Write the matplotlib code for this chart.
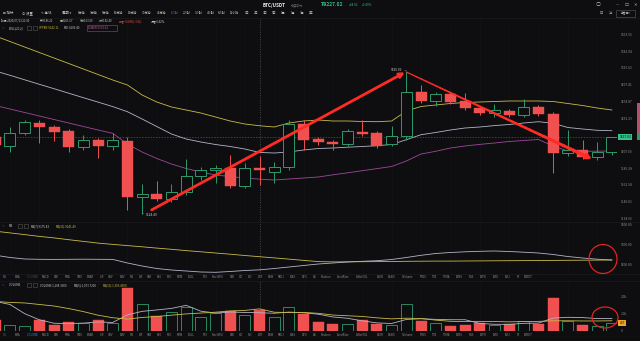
import numpy as np
import matplotlib
matplotlib.use("Agg")
import matplotlib.pyplot as plt
from matplotlib.patches import Rectangle, Ellipse
from matplotlib.collections import LineCollection

plt.rcParams['font.family'] = ['Noto Sans CJK SC', 'DejaVu Sans']

# ---------------- data: BTC/USDT 1h candles ----------------
opens = [9227.05, 9215.01, 9232.41, 9245.79, 9240.44, 9235.08, 9213.67, 9223.04, 9215.01, 9221.70,
         9146.76, 9150.77, 9144.08, 9153.45, 9174.86, 9182.89, 9185.57, 9161.48, 9186.22, 9180.21,
         9186.90, 9244.45, 9224.38, 9220.36, 9217.69, 9233.74, 9232.41, 9217.69, 9228.39, 9287.28,
         9275.23, 9284.60, 9275.23, 9265.86, 9259.17, 9261.85, 9256.50, 9267.20, 9257.83, 9205.64,
         9209.66, 9200.29, 9206.98]
highs = [9232.41, 9240.44, 9249.80, 9249.80, 9243.11, 9237.76, 9229.73, 9225.72, 9232.41, 9227.05,
         9164.15, 9168.17, 9164.15, 9197.61, 9186.90, 9189.58, 9202.96, 9192.26, 9201.57, 9193.60,
         9249.80, 9249.80, 9227.05, 9223.04, 9237.76, 9249.80, 9235.08, 9241.77, 9315.59, 9296.64,
         9287.28, 9287.28, 9285.94, 9268.54, 9271.22, 9264.53, 9277.91, 9269.88, 9260.51, 9236.42,
         9223.04, 9220.36, 9227.05]
lows = [9209.66, 9206.98, 9229.73, 9219.02, 9221.70, 9206.98, 9209.66, 9198.95, 9209.66, 9129.36,
        9124.49, 9141.40, 9140.06, 9149.43, 9169.51, 9165.49, 9158.80, 9158.80, 9163.00, 9165.49,
        9182.89, 9209.66, 9216.35, 9209.66, 9215.01, 9228.39, 9212.33, 9215.01, 9223.04, 9272.56,
        9268.54, 9271.22, 9263.19, 9256.50, 9253.82, 9253.82, 9253.82, 9255.16, 9178.87, 9201.63,
        9197.61, 9196.27, 9202.96]
closes = [9216.35, 9232.41, 9247.13, 9240.44, 9233.74, 9213.67, 9223.04, 9215.01, 9223.04, 9146.76,
          9150.77, 9144.08, 9153.45, 9174.86, 9182.89, 9185.57, 9161.48, 9185.57, 9182.40, 9186.90,
          9244.45, 9223.04, 9220.36, 9217.69, 9235.08, 9231.07, 9215.01, 9228.39, 9287.28, 9275.23,
          9284.60, 9273.89, 9265.86, 9259.17, 9263.19, 9256.50, 9267.20, 9257.83, 9205.64, 9209.66,
          9200.29, 9206.98, 9227.02]

boll_upper = [9362.22, 9354.86, 9347.50, 9340.14, 9332.78, 9325.42, 9318.06, 9310.70, 9303.34, 9296.65,
              9283.26, 9273.89, 9267.20, 9263.19, 9259.17, 9253.82, 9248.47, 9244.45, 9242.11, 9240.44,
              9245.79, 9248.47, 9249.80, 9248.47, 9248.47, 9247.80, 9247.53, 9248.47, 9261.85, 9267.87,
              9269.88, 9271.89, 9273.22, 9273.89, 9274.56, 9275.23, 9275.23, 9275.23, 9274.56, 9271.89,
              9269.21, 9265.86, 9263.19]
boll_mid = [9315.38, 9309.63, 9303.60, 9297.58, 9291.69, 9285.67, 9279.65, 9273.76, 9267.74, 9260.91,
            9251.14, 9241.10, 9231.07, 9224.38, 9220.36, 9217.02, 9214.34, 9210.99, 9206.40, 9205.64,
            9206.98, 9209.66, 9211.66, 9212.33, 9213.40, 9214.34, 9215.41, 9217.02, 9223.44, 9230.13,
            9233.07, 9236.42, 9239.10, 9240.44, 9242.31, 9243.78, 9245.79, 9247.53, 9245.39, 9239.77,
            9237.76, 9236.02, 9235.49]
boll_lower = [9269.21, 9264.53, 9259.84, 9255.16, 9250.47, 9245.79, 9241.10, 9236.42, 9232.00, 9217.69,
              9206.98, 9198.28, 9190.92, 9184.90, 9180.21, 9176.20, 9174.19, 9172.18, 9170.62, 9169.51,
              9170.84, 9172.18, 9173.52, 9176.46, 9179.14, 9181.95, 9184.76, 9187.57, 9194.93, 9204.30,
              9207.91, 9212.33, 9215.01, 9217.15, 9219.02, 9221.03, 9222.37, 9223.71, 9215.01, 9208.32,
              9207.90, 9208.10, 9208.32]

ma7 = [9249.0, 9237.5, 9230.0, 9228.5, 9228.0, 9228.5, 9229.0, 9228.5, 9228.0, 9210.0,
       9195.0, 9182.5, 9175.0, 9170.0, 9165.0, 9163.5, 9167.5, 9172.5, 9175.83, 9182.5,
       9190.0, 9197.5, 9205.0, 9210.0, 9215.0, 9218.5, 9221.5, 9227.5, 9237.5, 9248.5,
       9257.5, 9262.5, 9266.0, 9268.5, 9270.0, 9267.5, 9264.0, 9260.0, 9252.5, 9242.5,
       9235.0, 9229.0, 9225.0]
ma30 = [9369.0, 9360.5, 9352.0, 9343.0, 9335.5, 9326.5, 9318.0, 9309.5, 9303.0, 9297.0,
        9291.0, 9284.5, 9278.5, 9272.0, 9266.0, 9260.0, 9254.0, 9247.5, 9241.49, 9235.5,
        9229.5, 9223.0, 9217.0, 9215.5, 9216.0, 9216.5, 9217.0, 9217.5, 9218.5, 9219.0,
        9219.5, 9219.5, 9220.0, 9220.5, 9221.0, 9221.5, 9222.0, 9222.5, 9223.0, 9223.5,
        9224.0, 9224.5, 9225.0]

volumes = [641, 359, 299, 641, 341, 557, 479, 641, 497, 2557,
           1599, 898, 1096, 1395, 838, 1060, 1198, 958, 1208.30, 796,
           1395, 1000, 539, 401, 401, 641, 401, 359, 1599, 599,
           461, 299, 359, 497, 359, 437, 599, 437, 1958, 599,
           359, 299, 467]
vol_ma5 = [1740, 1560, 1020, 660, 456, 439, 463, 532, 503, 946,
           1155, 1238, 1329, 1509, 1165, 1057, 1117, 1090, 1073.72, 1044,
           1111, 1071, 988, 826, 747, 596, 477, 441, 680, 720,
           684, 663, 663, 443, 395, 390, 450, 466, 758, 806,
           790, 730, 736]
vol_ma10 = [1740, 1680, 1650, 1560, 1470, 1320, 1140, 930, 780, 701,
            797, 851, 931, 1006, 1056, 1106, 1178, 1210, 1303.45, 1105,
            1084, 1094, 1039, 939, 896, 854, 774, 714, 753, 734,
            640, 570, 552, 562, 557, 537, 557, 565, 601, 601,
            590, 590, 601]

# price scale labels (the one level under the last-price tag is not printed)
price_ticks = [9363.56, 9341.04, 9319.62, 9297.41, 9274.87, 9252.25,
               9207.60, 9185.28, 9162.94, 9140.81, 9118.65]
ma_ticks = [9400.00, 9300.00, 9200.00]
vol_ticks = [0, 1000, 2000]
vol_tick_labels = ["0", "1.0k", "2.0k"]

last_price = 9227.02
price_change = 44.62
price_change_pct = 0.49
cursor = 18   # candle under the crosshair

periods = ["1分钟", "3分钟", "5分钟", "10分钟", "15分钟", "30分钟", "45分钟", "1小时", "2小时",
           "3小时", "4小时", "6小时", "12小时", "1日", "2日", "3日", "5日", "1周", "1月", "3月", "1年"]
active_period = "1小时"
tabs = ["MA", "EMA", "VOLUME", "MACD", "DMI", "SMA", "TRIX", "BRAR", "VR", "OBV", "EMV", "RSI",
        "WR", "SAR", "KDJ", "ROC", "MTM", "BOLL", "PSY", "StochRSI", "DMI", "CCI", "NVI", "ATR",
        "BBW", "SKDJ", "BIAS", "DPO", "AO", "Position", "FundRate", "ArNetVOL", "LSUR", "BASIS",
        "TVolume", "FTBS", "TTB", "TTMA", "AVBS", "NLB", "AVPD", "AVDI", "AVLI", "FR", "AVBDT"]

# ---------------- style ----------------
BG = "#0e0e10"
RED = "#f0504f"
GREEN = "#2f9b6c"
UP_TXT = "#2ebd85"
AX_TXT = "#8c8c8c"
TXT = "#c8c8c8"
DIM = "#7a7a7a"
YEL = "#c9bb48"
WHITE_LINE = "#b4b4c8"
PURPLE = "#a0489a"
BLUE = "#3d7be0"
MARK = "#ff2b25"

W, H = 640, 341
fig = plt.figure(figsize=(W / 100, H / 100), dpi=100, facecolor=BG)


def px_axes(x0, y0, x1, y1):
    return fig.add_axes([x0 / W, 1 - y1 / H, (x1 - x0) / W, (y1 - y0) / H])


n = len(closes)
idx = np.arange(n)
xlim = (0.32, 42.35)

ax = px_axes(0, 18, 617, 222)
ma_ax = px_axes(0, 222, 617, 273)
vol_ax = px_axes(0, 281, 617, 331)
for a in (ax, ma_ax, vol_ax):
    a.set_facecolor(BG)
    a.set_xlim(*xlim)
    for s in a.spines.values():
        s.set_visible(False)
    a.set_xticks([])
    a.yaxis.tick_right()
    a.tick_params(axis='y', length=0, pad=2.6, labelsize=2.4, labelcolor=AX_TXT)

ax.set_ylim(9113.30, 9386.31)
ma_ax.set_ylim(9160, 9415)
vol_ax.set_ylim(0, 2941)

ax.set_yticks(price_ticks)
ax.set_yticklabels([f"{v:.2f}" for v in price_ticks])
ma_ax.set_yticks(ma_ticks)
ma_ax.set_yticklabels([f"{v:.2f}" for v in ma_ticks])
vol_ax.set_yticks(vol_ticks)
vol_ax.set_yticklabels(vol_tick_labels)

# very faint grid
for a in (ax, ma_ax, vol_ax):
    for g in range(1, n, 2):
        a.axvline(g, color="#131315", lw=0.5, zorder=0)

# ---------------- candles ----------------
body_w = 0.75
min_body = 1.4
for i in idx:
    o, h, l, c = opens[i], highs[i], lows[i], closes[i]
    up = c >= o
    lo_b, hi_b = min(o, c), max(o, c)
    if hi_b - lo_b < min_body:
        hi_b = lo_b + min_body
    if up:
        ax.vlines(i, hi_b, h, color=GREEN, lw=0.7, zorder=3)
        ax.vlines(i, l, lo_b, color=GREEN, lw=0.7, zorder=3)
        ax.add_patch(Rectangle((i - body_w / 2, lo_b), body_w, hi_b - lo_b,
                               facecolor=BG, edgecolor=GREEN, lw=0.7, zorder=3))
    else:
        ax.vlines(i, l, h, color=RED, lw=0.7, zorder=3)
        ax.add_patch(Rectangle((i - body_w / 2, lo_b), body_w, hi_b - lo_b,
                               facecolor=RED, edgecolor=RED, lw=0.3, zorder=3))

# Bollinger bands
ax.plot(idx, boll_upper, color=YEL, lw=0.6, zorder=2)
ax.plot(idx, boll_mid, color=WHITE_LINE, lw=0.6, zorder=2)
ax.plot(idx, boll_lower, color=PURPLE, lw=0.6, zorder=2)

# last price line and crosshair
ax.axhline(last_price, color="#5a5a5a", lw=0.5, ls=(0, (2, 2)), zorder=1)
for a in (ax, ma_ax, vol_ax):
    a.axvline(cursor, color="#5a5a5a", lw=0.5, ls=(0, (1.5, 2)), zorder=1)

# high / low markers
i_hi = int(np.argmax(highs))
i_lo = int(np.argmin(lows))
ax.annotate(f"{highs[i_hi]:.2f}", xy=(i_hi, highs[i_hi]), xytext=(-3, 0.6),
            textcoords="offset points", ha="right", va="center", fontsize=2.3,
            color="#d0d0d0", arrowprops=dict(arrowstyle="-", color="#9a9a9a", lw=0.4),
            zorder=6)
ax.annotate(f"{lows[i_lo]:.2f}", xy=(i_lo, lows[i_lo]), xytext=(3, -0.8),
            textcoords="offset points", ha="left", va="center", fontsize=2.3,
            color="#d0d0d0", arrowprops=dict(arrowstyle="-", color="#9a9a9a", lw=0.4),
            zorder=6)

# trend arrows drawn over the price chart
a1_start = (i_lo + 0.65, lows[i_lo] + 5)
a1_end = (i_hi - 0.1, highs[i_hi] - 2)
ax.annotate("", xy=a1_end, xytext=a1_start,
            arrowprops=dict(arrowstyle="-|>", color=MARK, lw=2.0, mutation_scale=7,
                            shrinkA=0, shrinkB=0), zorder=7)

a2_start = (i_hi + 0.05, highs[i_hi] - 2)
a2_end = (40.65, 9197.6)
t = np.linspace(0, 1, 40)
xs = a2_start[0] + (a2_end[0] - a2_start[0]) * t
ys = a2_start[1] + (a2_end[1] - a2_start[1]) * t
segs = [[(xs[k], ys[k]), (xs[k + 1], ys[k + 1])] for k in range(len(t) - 2)]
ax.add_collection(LineCollection(segs, colors=MARK, linewidths=np.linspace(0.9, 2.4, len(segs)),
                                 capstyle="round", zorder=7))
ax.annotate("", xy=a2_end, xytext=(xs[-4], ys[-4]),
            arrowprops=dict(arrowstyle="-|>", color=MARK, lw=2.0, mutation_scale=7,
                            shrinkA=0, shrinkB=0), zorder=7)

# current price tag
ax.text(1.004, last_price, f"{last_price:.2f}", transform=ax.get_yaxis_transform(),
        ha="left", va="center", fontsize=2.4, color="#0e0e10", clip_on=False, zorder=8,
        bbox=dict(boxstyle="square,pad=0.35", fc="#35c28a", ec="none"))

# ---------------- MA panel ----------------
ma_ax.plot(idx, ma30, color=YEL, lw=0.6)
ma_ax.plot(idx, ma7, color=WHITE_LINE, lw=0.6)

# ---------------- volume panel ----------------
for i in idx:
    up = closes[i] >= opens[i]
    if up:
        vol_ax.add_patch(Rectangle((i - body_w / 2, 0), body_w, volumes[i],
                                   facecolor=BG, edgecolor=GREEN, lw=0.6, zorder=2))
    else:
        vol_ax.add_patch(Rectangle((i - body_w / 2, 0), body_w, volumes[i],
                                   facecolor=RED, edgecolor=RED, lw=0.3, zorder=2))
vol_ax.plot(idx, vol_ma5, color=WHITE_LINE, lw=0.6, zorder=3)
vol_ax.plot(idx, vol_ma10, color=YEL, lw=0.6, zorder=3)
vol_ax.text(1.004, volumes[-1], f"{volumes[-1]:.0f}", transform=vol_ax.get_yaxis_transform(),
            ha="left", va="center", fontsize=2.4, color="#1a1a1a", clip_on=False, zorder=8,
            bbox=dict(boxstyle="square,pad=0.35", fc="#f0a428", ec="none"))

# ---------------- window chrome and text overlay ----------------
ov = fig.add_axes([0, 0, 1, 1], zorder=20)
ov.set_xlim(0, W)
ov.set_ylim(H, 0)
ov.axis("off")
ov.patch.set_alpha(0)


def label(x, y, s, size=2.3, color=TXT, **kw):
    ov.text(x, y, s, fontsize=size, color=color, va="center", **kw)


# title bar
label(263, 5, "BTC/USDT", size=3.3, color="#f0f0f0", weight="bold")
label(291, 5.3, "永续合约", size=2.2, color=DIM)
label(321, 5, f"₮{last_price:.2f}", size=3.5, color=UP_TXT, weight="bold")
label(349, 5.3, f"+{price_change:.2f}", size=2.2, color=UP_TXT)
label(362, 5.3, f"+{price_change_pct:.2f}%", size=2.2, color=UP_TXT)
label(598, 5, "○", size=3.6, color="#bbbbbb", ha="center")
label(617, 5, "—", size=2.6, color="#bbbbbb", ha="center")
label(627, 5, "☐", size=3.2, color="#bbbbbb", ha="center")
label(635, 5, "✕", size=3.0, color="#bbbbbb", ha="center")

# toolbar
label(3, 13, "⊟ 指标", size=2.4)
label(22, 13, "⊙ 设置", size=2.4)
label(41, 13, "✎ 画线", size=2.4)
label(62, 13, "周期 ▾", size=2.4)
px = 78
for p in periods:
    label(px, 13, p, size=2.2, color=BLUE if p == active_period else TXT)
    px += 4.0 + 2.6 * len(p)
label(601, 13, "⊡", size=2.8, color=TXT, ha="center")
label(610, 13, "⇲", size=2.8, color=TXT, ha="center")
ov.add_patch(Rectangle((616, 9.5), 19, 7, fill=False, ec="#5a5a5a", lw=0.4))
label(625.5, 13, "单窗口▾", size=2.0, ha="center")

# candle info row
info = [("时间:2020/07/13 21:00", TXT), (f"开:{opens[cursor]:.2f}", TXT),
        (f"高:{highs[cursor]:.2f}", TXT), (f"低:{lows[cursor]:.2f}", TXT),
        (f"收:{closes[cursor]:.2f}", TXT)]
chg = closes[cursor] - opens[cursor]
info.append((f"涨幅:{chg / opens[cursor] * 100:.2f}%({chg:.2f})", "#e8504f"))
info.append((f"振幅:{(highs[cursor] - lows[cursor]) / opens[cursor] * 100:.2f}%", TXT))
info_x = [1, 40, 60, 80, 99, 119, 151]
for (s, col), x in zip(info, info_x):
    label(x, 21, s, size=2.0, color=col)


# indicator headers
def header(y, name, x_name, boxes_x, items):
    label(2, y, "∨", size=2.0, color=DIM)
    label(x_name, y, name, size=2.1, color=TXT)
    for bx in boxes_x:
        ov.add_patch(Rectangle((bx, y - 2), 4, 4, fill=False, ec="#555555", lw=0.4))
    for x, s, col in items:
        label(x, y, s, size=2.1, color=col)


header(28, "BOLL(20,2)", 9, [27, 33],
       [(39, f"UPPER:{boll_upper[cursor]:.2f}", YEL),
        (64, f"MID:{boll_mid[cursor]:.2f}", TXT),
        (88, f"LOWER:{boll_lower[cursor]:.2f}", "#d05aa8")])
ov.add_patch(Rectangle((86.5, 25), 30, 6, fill=False, ec="#b03a80", lw=0.4))

header(226, "MA", 9, [18, 24],
       [(31, f"MA(7):{ma7[cursor]:.2f}", TXT),
        (56, f"MA(30):{ma30[cursor]:.2f}", YEL)])

header(285, "VOLUME", 9, [27, 33],
       [(40, f"VOLUME:{volumes[cursor]:,.4f}", TXT),
        (74, f"MA(5):{vol_ma5[cursor]:,.4f}", TXT),
        (103, f"MA(10):{vol_ma10[cursor]:,.4f}", YEL)])

# indicator tab rows
tab_x = [3, 15, 27, 42, 54, 65, 77, 87, 100, 108, 120, 130, 139, 147, 157, 167, 177, 188, 203,
         212, 230, 239, 248, 258, 268, 278, 290, 302, 313, 321, 337, 356, 377, 388, 402, 420,
         432, 443, 456, 469, 480, 493, 505, 517, 524]
for row_y, active in ((277, "MA"), (335, "VOLUME")):
    for name, x in zip(tabs, tab_x):
        col = BLUE if name == active else AX_TXT
        if name in ("MA", "VOLUME") and name != active:
            col = "#4a4a6a"
        label(x, row_y, name, size=2.0, color=col)

# separators
for y in (18, 222, 273.5, 281):
    ov.plot([0, W], [y, y], color="#1c1c1e", lw=0.5)

# depth strip at the right edge
ov.add_patch(Rectangle((637, 103), 3, 31, fc="#b8506a", ec="none"))
ov.add_patch(Rectangle((637, 134), 3, 6, fc="#2f9b6c", ec="none"))

# hand-drawn highlight circles
ov.add_patch(Ellipse((603, 259), 28, 29, fill=False, ec="#e4231f", lw=0.9))
ov.add_patch(Ellipse((605, 317.5), 26, 21, fill=False, ec="#e4231f", lw=0.9))

fig.savefig("out.png", dpi=100, facecolor=BG)
